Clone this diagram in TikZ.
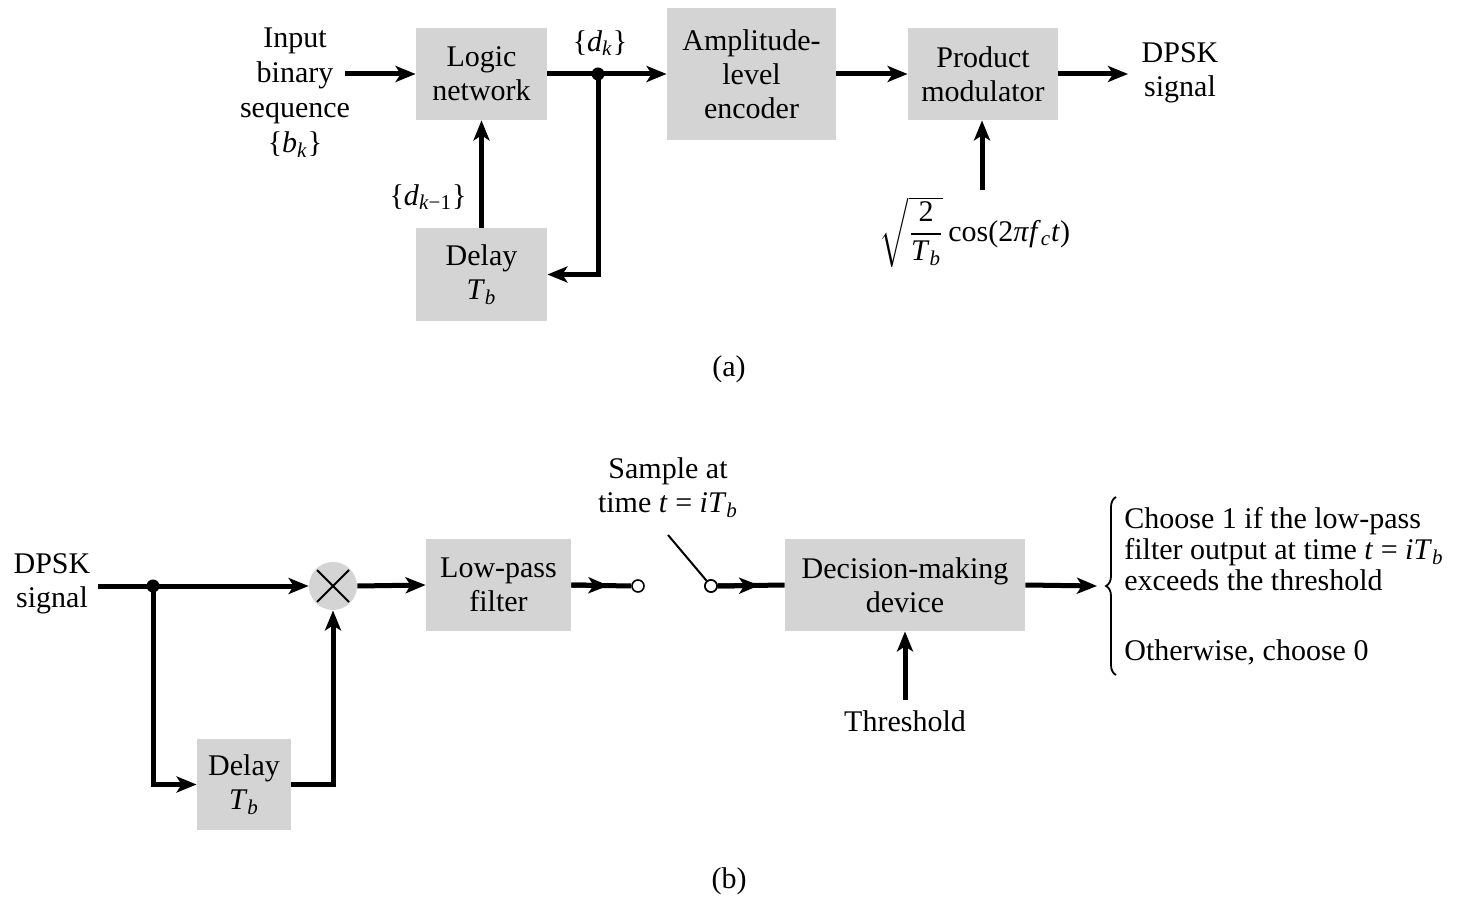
\documentclass[tikz,border=0pt]{standalone}
\usepackage{amsmath}
\usepackage{fontspec}
\setmainfont{Liberation Serif}
\usetikzlibrary{arrows.meta,decorations.pathreplacing,calc}
\definecolor{boxgray}{RGB}{212,212,212}
\newcommand{\iv}[1]{\textit{#1}}
\newcommand{\sbi}[1]{\textsubscript{\textit{#1}}}
\tikzset{
 blk/.style={fill=boxgray, draw=none, align=center, inner sep=0pt},
 sig/.style={line width=2.5pt, -{Stealth[length=10pt,width=8pt,inset=2.5pt]}},
 wire/.style={line width=2.5pt},
 lbl/.style={align=center, inner sep=0pt},
 jdot/.style={circle, fill=black, inner sep=0pt, minimum size=6.5pt},
 term/.style={circle, draw=black, fill=white, line width=0.8pt, inner sep=0pt, minimum size=6pt},
 mult/.style={circle, fill=boxgray, draw=none, inner sep=0pt, minimum size=24pt},
}
\begin{document}
\begin{tikzpicture}[x=0.5pt,y=-0.5pt, font=\fontsize{15}{17}\selectfont]
\useasboundingbox (0,0) rectangle (1466,897);

% ---------------- (a) ----------------
\node[blk, minimum width=65.5pt, minimum height=46pt] (logic) at (481.5,74) {Logic\\network};
\node[blk, minimum width=84.5pt, minimum height=66pt] (amp) at (751.5,74) {Amplitude-\\level\\encoder};
\node[blk, minimum width=75pt, minimum height=46pt] (prod) at (983,74) {Product\\modulator};
\node[blk, minimum width=65.5pt, minimum height=46.5pt] (delaya) at (481.5,274.5) {Delay\\\iv{T}\sbi{b}};

\node[lbl, font=\fontsize{15}{17.5}\selectfont] (input) at (295,93) {Input\\binary\\sequence\\\{\iv{b}\sbi{k}\}};
\node[lbl] (dk) at (600,43) {\{\iv{d}\sbi{k}\}};
\node[lbl] (dk1) at (428,197) {\{\iv{d}\textsubscript{\iv{k}−1}\}};
\node[lbl] (dpska) at (1180,73) {DPSK\\signal};
\node[lbl] (carrier) at (975,232) {$\sqrt{\displaystyle\frac{\mbox{2}}{\mbox{\iv{T}\sbi{b}}}}$\,cos(2\iv{π}\iv{f}\sbi{c}\iv{t})};
\node[lbl] (capa) at (729,369) {(a)};

\coordinate (ina) at (345,74);
\coordinate (split) at (598,74);
\coordinate (outa) at (1128,74);
\coordinate (carrtop) at (982,190);

\draw[sig] (ina) -- (logic.west);
\draw[sig] (logic.east) -- (amp.west);
\draw[sig] (split) |- (delaya.east);
\node[jdot] at (split) {};
\draw[sig] (delaya.north) -- (logic.south);
\draw[sig] (amp.east) -- (prod.west);
\draw[sig] (prod.east) -- (outa);
\draw[sig] (carrtop) -- (carrtop |- prod.south);

% ---------------- (b) ----------------
\node[lbl] (dpskb) at (52,584) {DPSK\\signal};
\node[mult] (mul) at (333,586) {};
\draw[line width=1pt] ($(mul.center)+(-16,-16)$) -- ($(mul.center)+(16,16)$);
\draw[line width=1pt] ($(mul.center)+(-16,16)$) -- ($(mul.center)+(16,-16)$);
\node[blk, minimum width=72.5pt, minimum height=46pt] (lpf) at (498.5,585) {Low-pass\\filter};
\node[blk, minimum width=120pt, minimum height=46pt] (dec) at (905,585) {Decision-making\\device};
\node[blk, minimum width=47pt, minimum height=45.5pt] (delayb) at (244,784.5) {Delay\\\iv{T}\sbi{b}};
\node[lbl] (sample) at (668,488) {Sample at\\time \iv{t} = \iv{i}\iv{T}\sbi{b}};
\node[lbl] (thr) at (905,721) {Threshold};
\node[lbl] (capb) at (729,881) {(b)};
\node[lbl, anchor=west, align=left, font=\fontsize{15}{15.5}\selectfont] (choose) at (1124,549) {Choose 1 if the low-pass\\filter output at time \iv{t} = \iv{i}\iv{T}\sbi{b}\\exceeds the threshold};
\node[lbl, anchor=west] (other) at (1124,652) {Otherwise, choose 0};

\coordinate (inb) at (98,586);
\coordinate (splitb) at (153,586);
\coordinate (armtop) at (668,535);
\coordinate (outb) at (1097,586);
\coordinate (thrtop) at (905,700);
\coordinate (bracebot) at (1116,675);
\coordinate (bracetop) at (1116,497);

\node[term] (t1) at (638,586) {};
\node[term] (t2) at (711,586) {};

\draw[sig] (inb) -- (mul.west);
\draw[sig] (splitb) |- (delayb.west);
\node[jdot] at (splitb) {};
\draw[sig] (delayb.east) -| (mul.south);
\draw[sig] (mul.east) -- (lpf.west);
\draw[wire] (lpf.east) -- (t1.west);
\draw[sig] (lpf.east) -- ($(lpf.east)!0.62!(t1.west)$);
\draw[line width=1pt] (armtop) -- (t2);
\node[term] at (t2) {};
\draw[wire] (t2.east) -- (dec.west);
\draw[sig] (t2.east) -- ($(t2.east)!0.62!(dec.west)$);
\draw[sig] (dec.east) -- (outb);
\draw[sig] (thrtop) -- (dec.south);
\draw[decorate, decoration={brace, amplitude=5pt}, line width=0.9pt] (bracebot) -- (bracetop);
\end{tikzpicture}
\end{document}
